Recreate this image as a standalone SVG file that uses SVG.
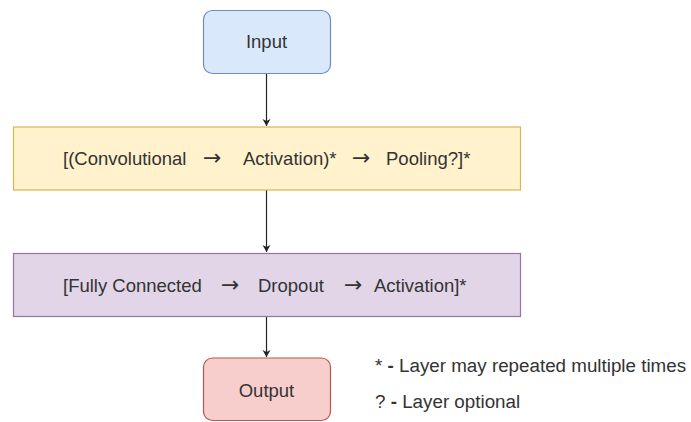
<svg xmlns="http://www.w3.org/2000/svg" width="691" height="422" viewBox="0 0 691 422">
  <style>
    text { font-family: "Liberation Sans", Arial, sans-serif; font-size: 18.5px; fill: #333333; }
    .arrow { font-family: "DejaVu Sans", sans-serif; font-size: 22px; }
    .box { stroke-width: 1.2; }
    .blue { fill: #dae8fc; stroke: #6c8ebf; }
    .yellow { fill: #fff2cc; stroke: #d6b656; }
    .purple { fill: #e1d5e7; stroke: #9673a6; }
    .red { fill: #f8cecc; stroke: #b85450; }
    .edge { stroke: #222222; stroke-width: 1.2; fill: none; marker-end: url(#head); }
    .mid { text-anchor: middle; }
    .legend { font-size: 18.8px; }
    .dash { font-weight: bold; }
  </style>
  <defs>
    <marker id="head" markerUnits="userSpaceOnUse" markerWidth="8" markerHeight="9" refX="7" refY="4" orient="auto">
      <path d="M0,0 L7,4 L0,8 L2,4 Z" fill="#222222"/>
    </marker>
  </defs>

  <rect width="691" height="422" fill="#ffffff"/>

  <!-- connectors -->
  <g id="connectors">
    <line class="edge" x1="266.5" y1="73" x2="266.5" y2="126"/>
    <line class="edge" x1="266.5" y1="190" x2="266.5" y2="252"/>
    <line class="edge" x1="266.5" y1="317" x2="266.5" y2="357"/>
  </g>

  <g id="input">
    <rect class="box blue" x="203.5" y="10.5" width="127" height="63" rx="9"/>
    <text class="mid" x="266.5" y="47.5">Input</text>
  </g>

  <g id="conv-block">
    <rect class="box yellow" x="13.5" y="127" width="507" height="63"/>
    <text y="165"><tspan x="63">[(Convolutional</tspan><tspan class="arrow" x="203">→</tspan><tspan x="243">Activation)*</tspan><tspan class="arrow" x="352">→</tspan><tspan x="386">Pooling?]*</tspan></text>
  </g>

  <g id="dense-block">
    <rect class="box purple" x="13.5" y="253.5" width="507" height="63"/>
    <text y="292"><tspan x="63">[Fully Connected</tspan><tspan class="arrow" x="221">→</tspan><tspan x="258">Dropout</tspan><tspan class="arrow" x="344">→</tspan><tspan x="374">Activation]*</tspan></text>
  </g>

  <g id="output">
    <rect class="box red" x="203.5" y="358" width="127" height="62.5" rx="9"/>
    <text class="mid" x="266.5" y="397">Output</text>
  </g>

  <g id="legend">
    <text class="legend" x="375" y="372">* <tspan class="dash">-</tspan> Layer may repeated multiple times</text>
    <text class="legend" x="375" y="408">? <tspan class="dash">-</tspan> Layer optional</text>
  </g>
</svg>
